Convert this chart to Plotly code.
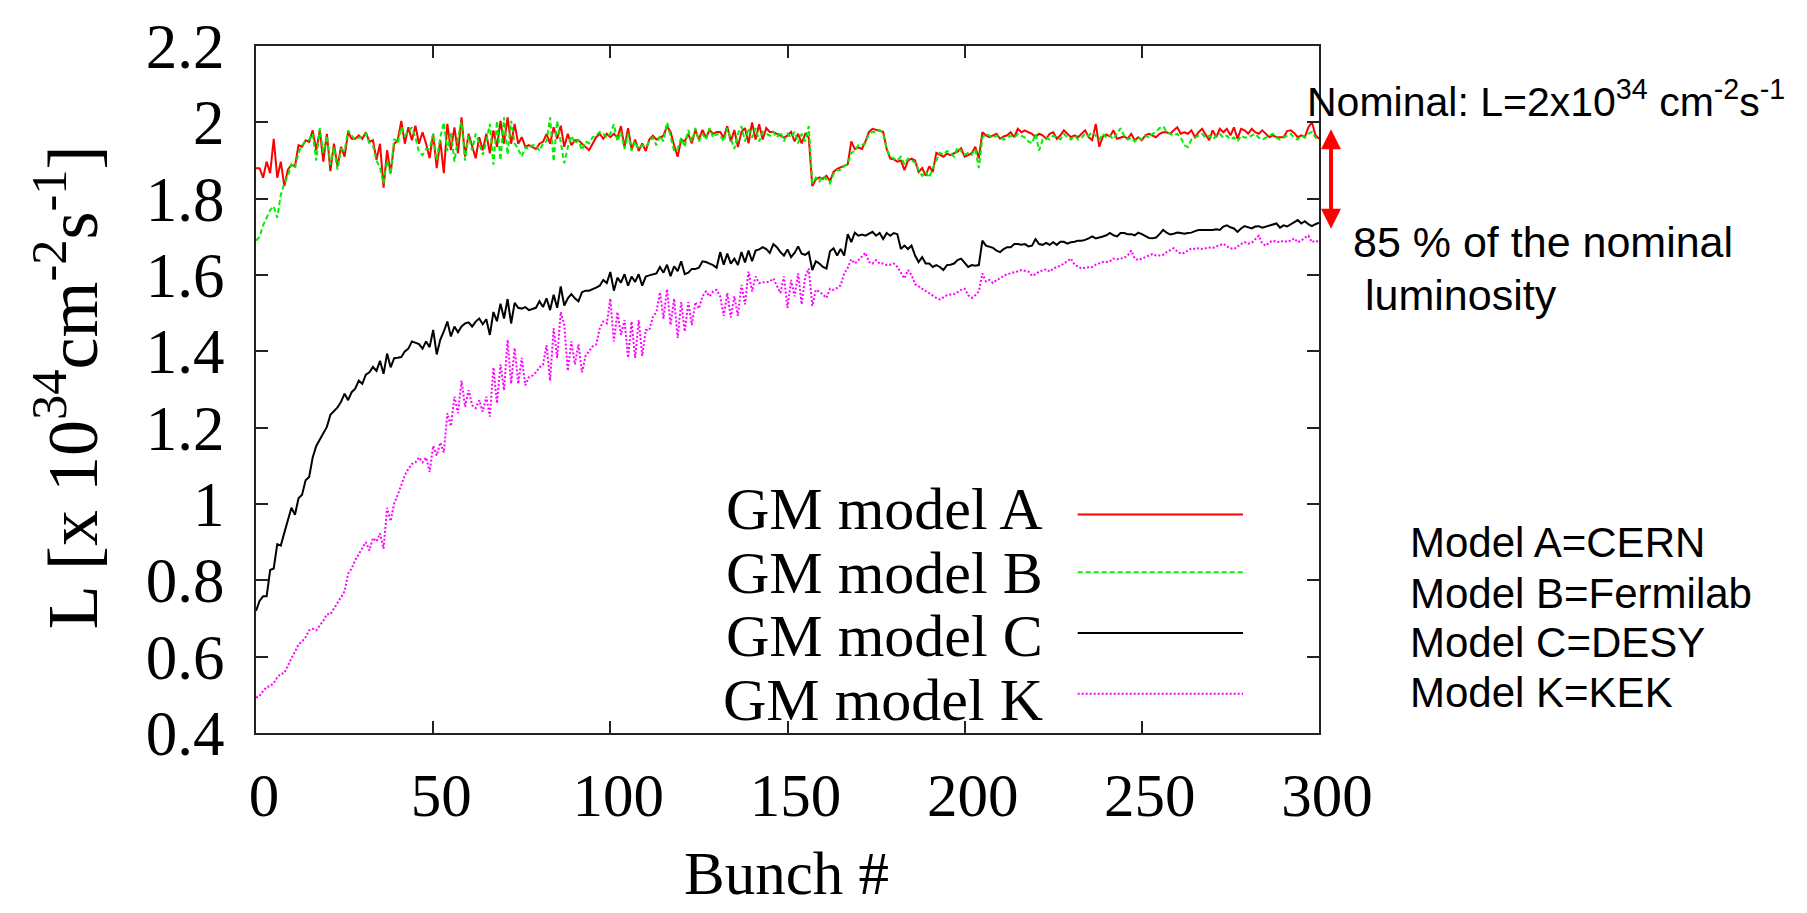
import plotly.graph_objects as go

# ---------------- data ----------------
x_tick_vals = [0, 50, 100, 150, 200, 250, 300]
y_tick_vals = [0.4, 0.6, 0.8, 1.0, 1.2, 1.4, 1.6, 1.8, 2.0, 2.2]
y_tick_text = ["0.4", "0.6", "0.8", "1", "1.2", "1.4", "1.6", "1.8", "2", "2.2"]

series_names = ["GM model A", "GM model B", "GM model C", "GM model K"]
site_labels = ["Model A=CERN", "Model B=Fermilab", "Model C=DESY", "Model K=KEK"]

model_A = [
    1.880, 1.880, 1.855, 1.897, 1.867, 1.957, 1.855, 1.897, 1.833, 1.876,
    1.889, 1.885, 1.940, 1.936, 1.953, 1.949, 1.979, 1.927, 1.979, 1.897,
    1.970, 1.872, 1.944, 1.884, 1.936, 1.910, 1.974, 1.957, 1.957, 1.966,
    1.957, 1.974, 1.949, 1.953, 1.902, 1.944, 1.829, 1.927, 1.867, 1.944,
    1.953, 2.004, 1.944, 1.987, 1.953, 1.991, 1.944, 1.974, 1.944, 1.906,
    1.970, 1.880, 1.953, 1.867, 1.996, 1.927, 1.987, 1.919, 2.013, 1.910,
    1.970, 1.936, 1.906, 1.961, 1.927, 1.970, 1.919, 1.979, 1.936, 2.004,
    1.944, 2.013, 1.944, 1.996, 1.944, 1.961, 1.936, 1.940, 1.936, 1.930,
    1.944, 1.949, 1.970, 1.944, 1.987, 1.957, 1.991, 1.936, 1.970, 1.940,
    1.953, 1.953, 1.944, 1.936, 1.927, 1.944, 1.961, 1.970, 1.957, 1.970,
    1.961, 1.970, 1.960, 1.990, 1.935, 1.985, 1.930, 1.955, 1.925, 1.945,
    1.925, 1.955, 1.965, 1.955, 1.960, 1.965, 1.990, 1.975, 1.940, 1.910,
    1.955, 1.950, 1.970, 1.945, 1.980, 1.955, 1.980, 1.960, 1.980, 1.970,
    1.975, 1.975, 1.960, 1.990, 1.950, 1.980, 1.935, 1.975, 1.985, 1.945,
    2.000, 1.955, 1.995, 1.955, 1.985, 1.975, 1.975, 1.970, 1.965, 1.960,
    1.965, 1.975, 1.950, 1.970, 1.945, 1.970, 1.960, 1.833, 1.850, 1.856,
    1.852, 1.860, 1.846, 1.870, 1.878, 1.882, 1.885, 1.890, 1.950, 1.930,
    1.935, 1.930, 1.950, 1.975, 1.983, 1.980, 1.978, 1.975, 1.930, 1.905,
    1.903, 1.897, 1.900, 1.875, 1.900, 1.905, 1.900, 1.870, 1.880, 1.860,
    1.885, 1.870, 1.920, 1.915, 1.910, 1.918, 1.914, 1.919, 1.923, 1.932,
    1.910, 1.914, 1.919, 1.936, 1.906, 1.974, 1.966, 1.961, 1.966, 1.970,
    1.957, 1.963, 1.966, 1.974, 1.961, 1.983, 1.974, 1.979, 1.974, 1.970,
    1.961, 1.970, 1.966, 1.957, 1.970, 1.974, 1.957, 1.966, 1.979, 1.970,
    1.961, 1.966, 1.961, 1.970, 1.979, 1.961, 1.953, 1.996, 1.936, 1.963,
    1.968, 1.963, 1.979, 1.957, 1.961, 1.963, 1.957, 1.970, 1.953, 1.961,
    1.953, 1.966, 1.970, 1.966, 1.961, 1.970, 1.974, 1.974, 1.970, 1.979,
    1.987, 1.970, 1.974, 1.970, 1.979, 1.961, 1.974, 1.983, 1.968, 1.953,
    1.979, 1.961, 1.983, 1.974, 1.983, 1.966, 1.987, 1.957, 1.983, 1.979,
    1.970, 1.983, 1.974, 1.970, 1.979, 1.970, 1.961, 1.966, 1.961, 1.961,
    1.961, 1.977, 1.979, 1.972, 1.961, 1.966, 1.961, 1.987, 2.000, 1.966,
    1.957,
]

model_B = [
    1.690, 1.700, 1.730, 1.750, 1.770, 1.780, 1.750, 1.810, 1.840, 1.860,
    1.890, 1.880, 1.920, 1.940, 1.950, 1.955, 1.970, 1.900, 1.985, 1.920,
    1.965, 1.889, 1.935, 1.876, 1.930, 1.925, 1.979, 1.965, 1.955, 1.960,
    1.962, 1.970, 1.945, 1.940, 1.900, 1.880, 1.840, 1.900, 1.863, 1.957,
    1.945, 1.987, 1.965, 1.975, 1.987, 1.960, 1.923, 1.914, 1.930, 1.930,
    1.970, 1.900, 1.960, 2.000, 1.925, 1.975, 1.897, 1.960, 2.000, 1.900,
    1.965, 1.927, 1.970, 1.945, 1.915, 1.950, 1.996, 1.889, 2.004, 1.900,
    2.013, 1.915, 2.004, 1.945, 1.930, 1.910, 1.935, 1.930, 1.940, 1.940,
    1.925, 1.945, 1.950, 2.013, 1.897, 2.004, 1.950, 1.893, 1.935, 1.965,
    1.945, 1.953, 1.927, 1.950, 1.945, 1.961, 1.965, 1.975, 1.970, 1.960,
    1.970, 1.995, 1.950, 1.975, 1.930, 1.970, 1.925, 1.950, 1.930, 1.940,
    1.935, 1.950, 1.960, 1.940, 1.965, 1.950, 2.000, 1.960, 1.925, 1.930,
    1.960, 1.935, 1.980, 1.950, 1.985, 1.950, 1.970, 1.955, 1.985, 1.960,
    1.970, 1.965, 1.950, 1.985, 1.955, 1.930, 1.970, 1.990, 1.950, 1.985,
    1.960, 1.985, 1.950, 1.975, 1.970, 1.965, 1.975, 1.960, 1.975, 1.950,
    1.970, 1.960, 1.975, 1.945, 1.970, 1.950, 1.990, 1.840, 1.855, 1.845,
    1.860, 1.850, 1.840, 1.865, 1.875, 1.875, 1.885, 1.890, 1.920, 1.925,
    1.940, 1.940, 1.945, 1.970, 1.975, 1.975, 1.980, 1.970, 1.930, 1.910,
    1.905, 1.900, 1.910, 1.890, 1.905, 1.900, 1.895, 1.875, 1.860, 1.870,
    1.855, 1.880, 1.900, 1.920, 1.915, 1.925, 1.920, 1.910, 1.935, 1.925,
    1.915, 1.920, 1.915, 1.930, 1.880, 1.960, 1.970, 1.965, 1.960, 1.965,
    1.960, 1.955, 1.960, 1.965, 1.960, 1.970, 1.965, 1.960, 1.950, 1.945,
    1.970, 1.926, 1.955, 1.960, 1.955, 1.965, 1.960, 1.955, 1.970, 1.960,
    1.955, 1.965, 1.955, 1.960, 1.970, 1.965, 1.975, 1.965, 1.955, 1.970,
    1.960, 1.965, 1.955, 1.970, 1.985, 1.965, 1.955, 1.960, 1.950, 1.960,
    1.955, 1.965, 1.960, 1.970, 1.975, 1.985, 1.990, 1.975, 1.970, 1.965,
    1.970, 1.960, 1.940, 1.935, 1.955, 1.960, 1.965, 1.970, 1.960, 1.965,
    1.955, 1.965, 1.970, 1.960, 1.965, 1.955, 1.960, 1.950, 1.965, 1.960,
    1.960, 1.965, 1.970, 1.960, 1.955, 1.960, 1.965, 1.970, 1.960, 1.955,
    1.960, 1.965, 1.970, 1.960, 1.955, 1.965, 1.960, 1.970, 1.975, 1.960,
    1.955,
]

model_C = [
    0.720, 0.746, 0.758, 0.758, 0.827, 0.831, 0.895, 0.891, 0.925, 0.955,
    0.990, 0.972, 1.015, 1.024, 1.062, 1.071, 1.122, 1.152, 1.169, 1.186,
    1.202, 1.234, 1.245, 1.253, 1.268, 1.289, 1.272, 1.293, 1.302, 1.323,
    1.315, 1.339, 1.345, 1.359, 1.349, 1.375, 1.341, 1.394, 1.358, 1.382,
    1.383, 1.385, 1.400, 1.407, 1.426, 1.422, 1.419, 1.407, 1.426, 1.411,
    1.456, 1.392, 1.430, 1.452, 1.478, 1.439, 1.465, 1.450, 1.465, 1.473,
    1.476, 1.465, 1.478, 1.486, 1.471, 1.484, 1.443, 1.503, 1.479, 1.525,
    1.486, 1.537, 1.473, 1.527, 1.514, 1.512, 1.516, 1.508, 1.512, 1.514,
    1.531, 1.516, 1.539, 1.508, 1.548, 1.514, 1.570, 1.520, 1.539, 1.550,
    1.539, 1.531, 1.555, 1.559, 1.559, 1.562, 1.567, 1.572, 1.587, 1.579,
    1.608, 1.559, 1.593, 1.580, 1.602, 1.572, 1.596, 1.582, 1.602, 1.572,
    1.596, 1.599, 1.602, 1.604, 1.621, 1.606, 1.627, 1.597, 1.623, 1.610,
    1.636, 1.602, 1.606, 1.616, 1.616, 1.619, 1.636, 1.634, 1.630, 1.626,
    1.619, 1.660, 1.627, 1.656, 1.630, 1.643, 1.626, 1.660, 1.633, 1.664,
    1.636, 1.664, 1.667, 1.673, 1.668, 1.658, 1.681, 1.673, 1.660, 1.651,
    1.667, 1.647, 1.658, 1.675, 1.656, 1.653, 1.660, 1.613, 1.636, 1.630,
    1.621, 1.617, 1.662, 1.670, 1.651, 1.668, 1.651, 1.707, 1.686, 1.711,
    1.703, 1.706, 1.703, 1.707, 1.713, 1.703, 1.710, 1.694, 1.710, 1.703,
    1.710, 1.707, 1.668, 1.677, 1.668, 1.677, 1.651, 1.634, 1.647, 1.630,
    1.630, 1.621, 1.626, 1.621, 1.613, 1.626, 1.627, 1.630, 1.639, 1.643,
    1.633, 1.621, 1.626, 1.624, 1.626, 1.690, 1.677, 1.673, 1.671, 1.664,
    1.660, 1.668, 1.673, 1.673, 1.681, 1.681, 1.679, 1.681, 1.675, 1.677,
    1.694, 1.681, 1.679, 1.684, 1.679, 1.686, 1.679, 1.687, 1.687, 1.682,
    1.686, 1.687, 1.690, 1.690, 1.692, 1.696, 1.701, 1.696, 1.698, 1.701,
    1.704, 1.710, 1.704, 1.701, 1.710, 1.710, 1.707, 1.707, 1.704, 1.711,
    1.707, 1.701, 1.697, 1.696, 1.698, 1.707, 1.718, 1.711, 1.706, 1.708,
    1.711, 1.710, 1.708, 1.710, 1.711, 1.715, 1.718, 1.718, 1.718, 1.718,
    1.718, 1.720, 1.718, 1.727, 1.730, 1.725, 1.722, 1.713, 1.722, 1.728,
    1.724, 1.722, 1.727, 1.728, 1.724, 1.727, 1.730, 1.734, 1.735, 1.724,
    1.730, 1.727, 1.732, 1.739, 1.744, 1.735, 1.741, 1.733, 1.728, 1.733,
    1.737,
]

model_K = [
    0.493, 0.497, 0.510, 0.520, 0.523, 0.531, 0.546, 0.555, 0.557, 0.579,
    0.596, 0.613, 0.632, 0.640, 0.651, 0.669, 0.673, 0.669, 0.681, 0.694,
    0.711, 0.711, 0.726, 0.741, 0.757, 0.771, 0.818, 0.831, 0.853, 0.870,
    0.887, 0.900, 0.878, 0.911, 0.902, 0.923, 0.883, 0.990, 0.955, 1.002,
    1.024, 1.050, 1.075, 1.092, 1.105, 1.109, 1.122, 1.109, 1.122, 1.084,
    1.152, 1.127, 1.161, 1.135, 1.238, 1.204, 1.281, 1.238, 1.323, 1.255,
    1.298, 1.259, 1.251, 1.272, 1.242, 1.281, 1.229, 1.358, 1.264, 1.366,
    1.298, 1.430, 1.315, 1.409, 1.315, 1.383, 1.311, 1.332, 1.336, 1.345,
    1.358, 1.365, 1.416, 1.323, 1.460, 1.383, 1.503, 1.469, 1.349, 1.426,
    1.366, 1.418, 1.345, 1.388, 1.401, 1.413, 1.418, 1.460, 1.478, 1.473,
    1.538, 1.426, 1.503, 1.443, 1.482, 1.383, 1.478, 1.383, 1.482, 1.388,
    1.456, 1.456, 1.490, 1.503, 1.555, 1.486, 1.563, 1.469, 1.538, 1.435,
    1.529, 1.452, 1.529, 1.469, 1.529, 1.512, 1.544, 1.557, 1.544, 1.557,
    1.561, 1.544, 1.493, 1.553, 1.489, 1.544, 1.493, 1.574, 1.523, 1.609,
    1.557, 1.596, 1.579, 1.581, 1.581, 1.583, 1.591, 1.573, 1.553, 1.596,
    1.514, 1.587, 1.544, 1.604, 1.523, 1.596, 1.617, 1.519, 1.561, 1.557,
    1.549, 1.540, 1.564, 1.561, 1.566, 1.573, 1.604, 1.619, 1.641, 1.630,
    1.639, 1.650, 1.658, 1.634, 1.630, 1.639, 1.630, 1.630, 1.626, 1.627,
    1.630, 1.621, 1.604, 1.591, 1.613, 1.600, 1.576, 1.570, 1.564, 1.557,
    1.550, 1.544, 1.540, 1.536, 1.542, 1.547, 1.549, 1.550, 1.555, 1.561,
    1.564, 1.547, 1.540, 1.547, 1.557, 1.604, 1.583, 1.587, 1.579, 1.587,
    1.591, 1.598, 1.602, 1.604, 1.607, 1.610, 1.613, 1.610, 1.609, 1.598,
    1.602, 1.609, 1.613, 1.615, 1.609, 1.617, 1.621, 1.624, 1.630, 1.636,
    1.643, 1.627, 1.621, 1.617, 1.619, 1.621, 1.621, 1.627, 1.630, 1.634,
    1.634, 1.636, 1.643, 1.641, 1.643, 1.645, 1.651, 1.664, 1.643, 1.639,
    1.643, 1.646, 1.651, 1.655, 1.651, 1.651, 1.653, 1.660, 1.664, 1.670,
    1.662, 1.656, 1.658, 1.664, 1.670, 1.668, 1.670, 1.668, 1.670, 1.672,
    1.671, 1.675, 1.679, 1.682, 1.675, 1.670, 1.668, 1.675, 1.681, 1.686,
    1.682, 1.684, 1.694, 1.703, 1.682, 1.677, 1.686, 1.690, 1.687, 1.686,
    1.690, 1.687, 1.690, 1.696, 1.686, 1.690, 1.698, 1.703, 1.686, 1.690,
    1.686,
]

nominal_L = 2.0
fraction_of_nominal = 0.85

# ---------------- styles ----------------
SERIF = "Liberation Serif, Times New Roman, serif"
SANS = "Liberation Sans, Arial, sans-serif"
colors = ["#ff0000", "#00ee00", "#000000", "#ff00ff"]
dashes = ["solid", "5px,3px", "solid", "2px,2px"]
widths = [2, 2, 2, 2]

all_series = [model_A, model_B, model_C, model_K]

fig = go.Figure()
for name, vals, c, d, w in zip(series_names, all_series, colors, dashes, widths):
    fig.add_trace(go.Scatter(
        x=list(range(len(vals))), y=vals, mode="lines", name=name,
        line=dict(color=c, dash=d, width=w), showlegend=False,
    ))

axis_common = dict(
    showgrid=False, zeroline=False, showline=True, linecolor="#222222",
    linewidth=2, mirror="ticks", ticks="inside", ticklen=12, tickwidth=1.5,
    tickcolor="#222222", ticklabeloverflow="allow",
)

fig.update_layout(
    width=1807, height=913,
    margin=dict(l=256, r=488, t=32, b=180, pad=0),
    paper_bgcolor="white", plot_bgcolor="white",
    showlegend=False,
    font=dict(family=SERIF, color="black"),
    xaxis=dict(range=[0, 300], tickvals=x_tick_vals,
               tickfont=dict(family=SERIF, size=61, color="black"),
               ticklabelstandoff=8, ticklabelshift=8, **axis_common),
    yaxis=dict(range=[0.4, 2.2], tickvals=y_tick_vals, ticktext=y_tick_text,
               tickfont=dict(family=SERIF, size=63, color="black"),
               ticklabelstandoff=17, **axis_common),
)

annotations = []
shapes = []

# axis titles
annotations.append(dict(
    text="L [x 10<sup>34</sup>cm<sup>-2</sup>s<sup>-1</sup>]",
    xref="paper", yref="paper", x=-0.178, y=0.503, textangle=-90,
    xanchor="center", yanchor="middle", showarrow=False,
    font=dict(family=SERIF, size=72, color="black"),
))
annotations.append(dict(
    text="Bunch #", xref="paper", yref="paper", x=0.4995, y=-0.2565,
    xanchor="center", yanchor="bottom", showarrow=False,
    font=dict(family=SERIF, size=61, color="black"),
))

# legend: text on the left, line sample on the right
legend_text_y = [0.3260, 0.2333, 0.1405, 0.0478]
legend_line_y = [0.318, 0.234, 0.1455, 0.057]
for name, ty, ly, c, d in zip(series_names, legend_text_y, legend_line_y, colors, dashes):
    annotations.append(dict(
        text=name, xref="paper", yref="paper", x=0.742, y=ty,
        xanchor="right", yanchor="middle", showarrow=False,
        font=dict(family=SERIF, size=60, color="black"),
    ))
    shapes.append(dict(
        type="line", xref="paper", yref="paper", x0=0.773, x1=0.9285,
        y0=ly, y1=ly, line=dict(color=c, width=2, dash=d),
    ))

# right-hand notes
annotations.append(dict(
    text="Nominal: L=2x10<sup>34</sup> cm<sup>-2</sup>s<sup>-1</sup>",
    xref="paper", yref="paper", x=0.9868, y=0.923,
    xanchor="left", yanchor="middle", showarrow=False,
    font=dict(family=SANS, size=41, color="black"),
))
# double-headed arrow from nominal down to 85 % of nominal
annotations.append(dict(
    text="", xref="paper", yref="y", x=1.0113, y=nominal_L * 0.991,
    axref="pixel", ayref="y", ax=0, ay=nominal_L * fraction_of_nominal * 1.01,
    showarrow=True, arrowside="end+start", arrowhead=2, arrowsize=1,
    arrowwidth=4, arrowcolor="#ff0000",
))
annotations.append(dict(
    text="85 % of the nominal", xref="paper", yref="paper", x=1.0301, y=0.714,
    xanchor="left", yanchor="middle", showarrow=False,
    font=dict(family=SANS, size=43, color="black"),
))
annotations.append(dict(
    text="luminosity", xref="paper", yref="paper", x=1.0414, y=0.638,
    xanchor="left", yanchor="middle", showarrow=False,
    font=dict(family=SANS, size=43, color="black"),
))

site_y = [0.2767, 0.2026, 0.1312, 0.0585]
for lab, sy in zip(site_labels, site_y):
    annotations.append(dict(
        text=lab, xref="paper", yref="paper", x=1.0837, y=sy,
        xanchor="left", yanchor="middle", showarrow=False,
        font=dict(family=SANS, size=42, color="black"),
    ))

fig.update_layout(annotations=annotations, shapes=shapes)

fig.write_html(
    "out.html",
    config={"displayModeBar": False},
    post_script="document.body.style.margin='0';",
)
